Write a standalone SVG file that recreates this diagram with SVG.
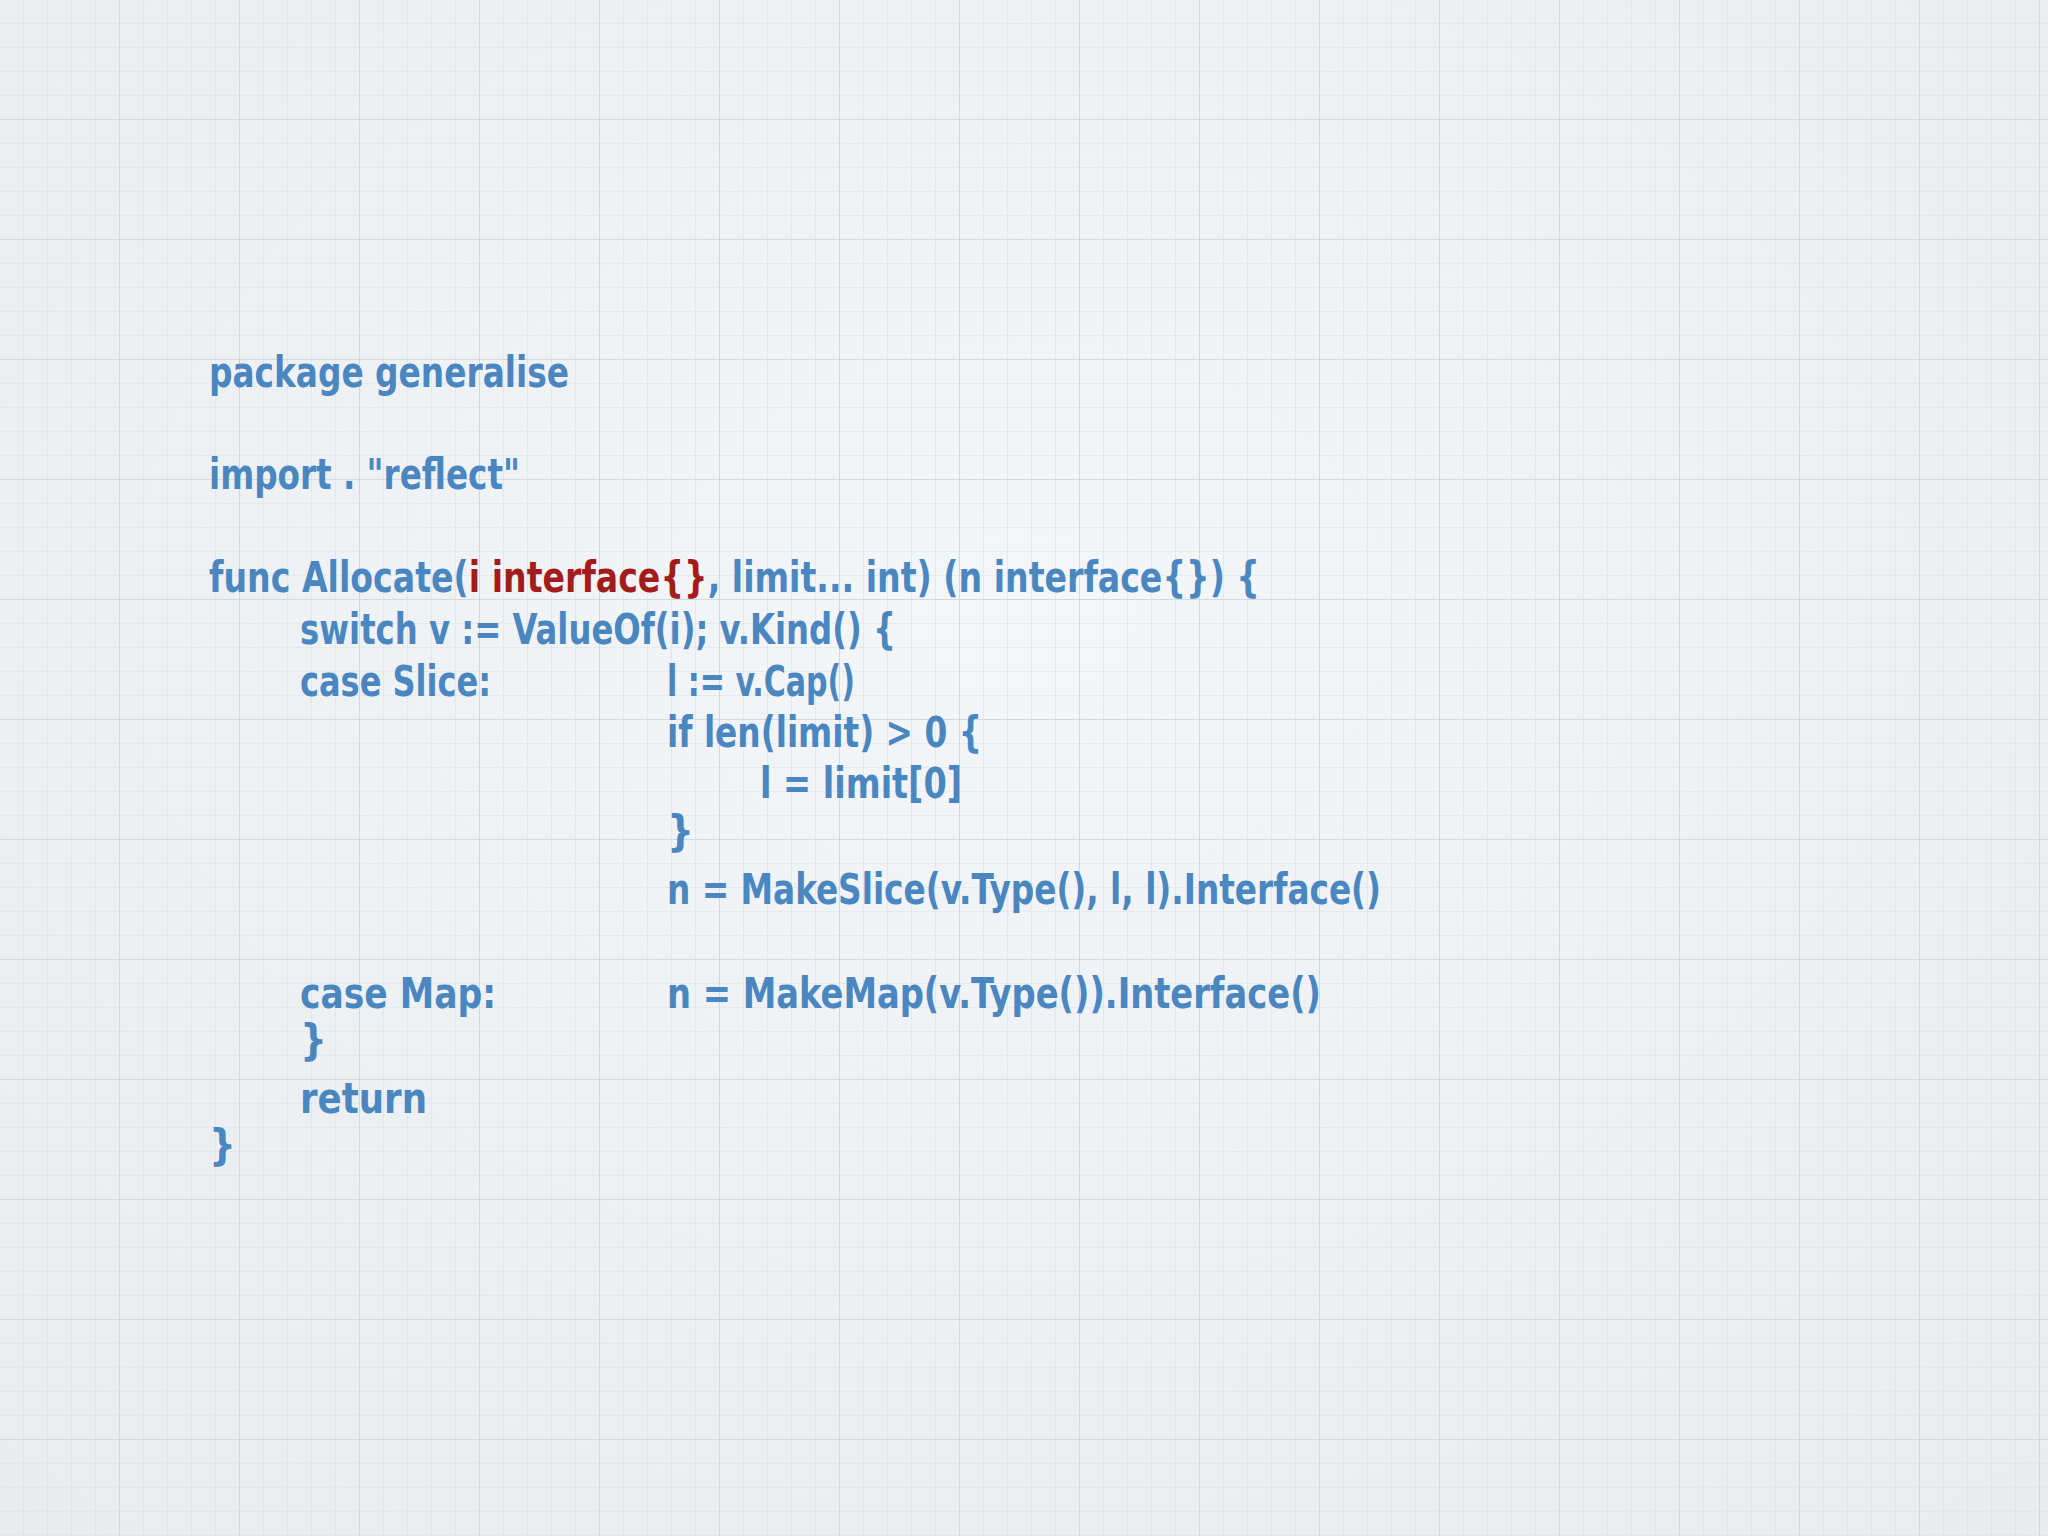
<svg xmlns="http://www.w3.org/2000/svg" width="2048" height="1536" viewBox="0 0 2048 1536">
<defs>
<pattern id="g" width="24" height="24" patternUnits="userSpaceOnUse">
<path d="M24 0V24M0 24H24" fill="none" stroke="#d9e1e6" stroke-width="1.2"/>
</pattern>
<pattern id="G" width="120" height="120" patternUnits="userSpaceOnUse">
<path d="M120 0V120M0 120H120" fill="none" stroke="#ccd6dd" stroke-width="1.6"/>
</pattern>
<radialGradient id="bg" cx="0.5" cy="0.4" r="0.8">
<stop offset="0" stop-color="#f4f6f8"/><stop offset="1" stop-color="#e8ecef"/>
</radialGradient>
<style>
text{font-family:"DejaVu Sans Condensed","DejaVu Sans",sans-serif;font-stretch:condensed;font-size:42px;fill:#4a86c0;font-weight:bold}
.r{fill:#a21c1c}
</style>
</defs>
<rect width="2048" height="1536" fill="url(#bg)"/>
<rect width="2048" height="1536" fill="url(#g)"/>
<rect width="2048" height="1536" fill="url(#G)"/>
<g id="code">
<text x="209" y="387" textLength="360" lengthAdjust="spacingAndGlyphs">package generalise</text>
<text x="209" y="489" textLength="311" lengthAdjust="spacingAndGlyphs">import . "reflect"</text>
<text x="209" y="592" textLength="1051" lengthAdjust="spacingAndGlyphs">func Allocate(<tspan class="r">i interface{}</tspan>, limit... int) (n interface{}) {</text>
<text x="300" y="644" textLength="596" lengthAdjust="spacingAndGlyphs">switch v := ValueOf(i); v.Kind() {</text>
<text x="300" y="696" textLength="191" lengthAdjust="spacingAndGlyphs">case Slice:</text>
<text x="667" y="696" textLength="188" lengthAdjust="spacingAndGlyphs">l := v.Cap()</text>
<text x="667" y="747" textLength="315" lengthAdjust="spacingAndGlyphs">if len(limit) &gt; 0 {</text>
<text x="760" y="798" textLength="202" lengthAdjust="spacingAndGlyphs">l = limit[0]</text>
<text x="667" y="846">}</text>
<text x="667" y="904" textLength="714" lengthAdjust="spacingAndGlyphs">n = MakeSlice(v.Type(), l, l).Interface()</text>
<text x="300" y="1008" textLength="196" lengthAdjust="spacingAndGlyphs">case Map:</text>
<text x="667" y="1008" textLength="654" lengthAdjust="spacingAndGlyphs">n = MakeMap(v.Type()).Interface()</text>
<text x="300" y="1055">}</text>
<text x="300" y="1113" textLength="127" lengthAdjust="spacingAndGlyphs">return</text>
<text x="209" y="1160">}</text>
</g>
</svg>
